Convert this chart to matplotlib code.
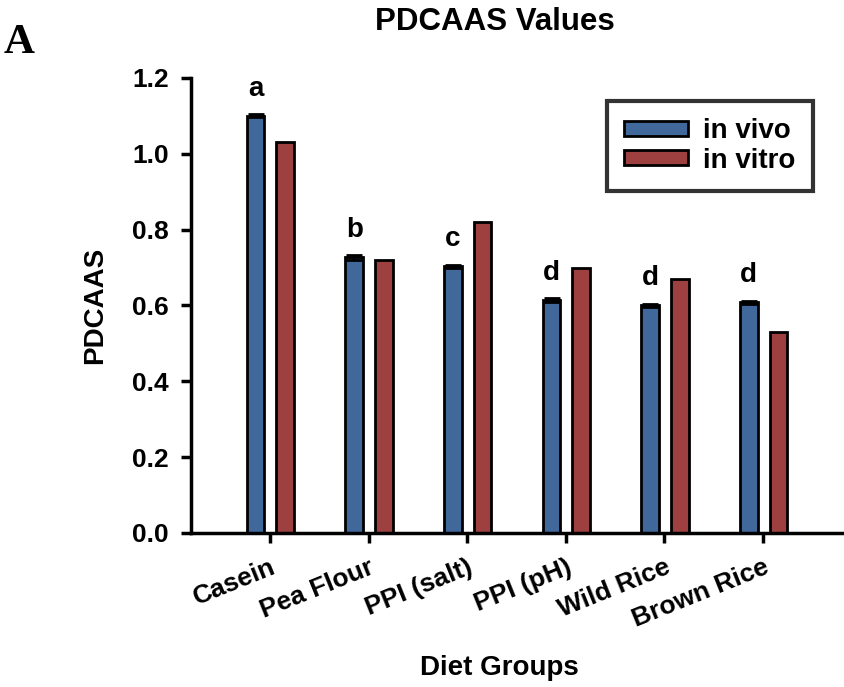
import matplotlib
matplotlib.use("Agg")
import matplotlib.pyplot as plt
import matplotlib.transforms as mtransforms
import numpy as np

groups = ["Casein", "Pea Flour", "PPI (salt)", "PPI (pH)", "Wild Rice", "Brown Rice"]
in_vivo = [1.10, 0.727, 0.703, 0.614, 0.601, 0.608]
in_vivo_err = [0.004, 0.006, 0.005, 0.005, 0.004, 0.005]
in_vitro = [1.03, 0.72, 0.82, 0.70, 0.67, 0.53]
sig_letters = ["a", "b", "c", "d", "d", "d"]
y_ticks = [0.0, 0.2, 0.4, 0.6, 0.8, 1.0, 1.2]

plt.rcParams["font.family"] = ["Liberation Sans", "DejaVu Sans"]
plt.rcParams["font.weight"] = "bold"

fig = plt.figure(figsize=(8.44, 6.87), dpi=100)
ax = fig.add_axes([0.2263, 0.2242, 0.7737, 0.6623])

x = np.arange(len(groups))
w = 0.18
blue = "#41689B"
red = "#9E4040"
ax.bar(x - 0.145, in_vivo, w, color=blue, edgecolor="black", linewidth=2,
       label="in vivo", zorder=2)
ax.errorbar(x - 0.145, in_vivo, yerr=in_vivo_err, fmt="none", ecolor="black",
            elinewidth=1.5, capsize=5.5, capthick=2, zorder=3)
ax.bar(x + 0.155, in_vitro, w, color=red, edgecolor="black", linewidth=2,
       label="in vitro", zorder=2)

for xi, v, e, s in zip(x, in_vivo, in_vivo_err, sig_letters):
    ax.text(xi - 0.145, v + e + 0.032, s, ha="center", va="bottom",
            fontsize=20, fontweight="bold")

ax.set_xlim(-0.80, 5.82)
ax.set_ylim(0, 1.2)
ax.set_yticks(y_ticks)
ax.set_yticklabels([f"{t:.1f}" for t in y_ticks], fontsize=19, fontweight="bold")
ax.set_xticks(x)
ax.set_xticklabels(groups, rotation=22, ha="right", rotation_mode="anchor",
                   fontsize=19, fontweight="bold")
shift = mtransforms.ScaledTranslation(0.44, 0, fig.dpi_scale_trans)
for lbl in ax.get_xticklabels():
    lbl.set_transform(lbl.get_transform() + shift)

for side in ("top", "right"):
    ax.spines[side].set_visible(False)
for side in ("left", "bottom"):
    ax.spines[side].set_linewidth(2.5)
ax.tick_params(axis="both", direction="out", length=7, width=2.5)
ax.tick_params(axis="y", pad=9)
ax.tick_params(axis="x", pad=9)

ax.set_ylabel("PDCAAS", fontsize=20, fontweight="bold")
ax.yaxis.set_label_coords(-0.127, 0.5)

fig.text(0.5865, 0.968, "PDCAAS Values", fontsize=22.5, fontweight="bold",
         ha="center", va="center")
fig.text(0.592, 0.028, "Diet Groups", fontsize=20, fontweight="bold",
         ha="center", va="center")

leg = ax.legend(loc="upper right", bbox_to_anchor=(0.9525, 0.949), fontsize=20,
                frameon=True, fancybox=False, handlelength=2.3, handleheight=0.45,
                borderpad=0.62, labelspacing=0.12, handletextpad=0.55,
                borderaxespad=0)
leg.get_frame().set_edgecolor("black")
leg.get_frame().set_linewidth(3)

fig.text(0.004, 0.923, "A", family=["Liberation Serif", "DejaVu Serif"],
         fontsize=31, fontweight="bold", ha="left", va="baseline")

fig.savefig("out.png", dpi=100)
